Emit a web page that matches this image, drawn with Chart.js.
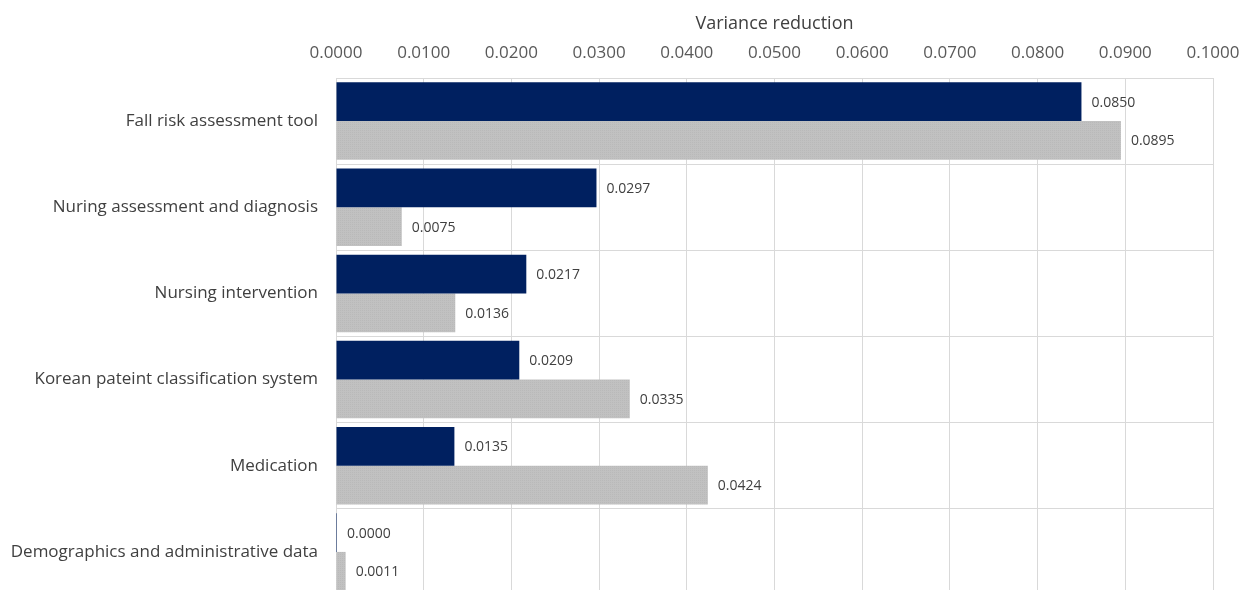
<!DOCTYPE html>
<html>
<head>
<meta charset="utf-8">
<script src="https://cdn.jsdelivr.net/npm/chart.js@4"></script>
<style>
  html, body { margin: 0; padding: 0; background: #fff; overflow: hidden; }
  canvas { display: block; }
</style>
</head>
<body>
<canvas id="chart" width="1239" height="598"></canvas>
<script>
// data
var categories = ["Fall risk assessment tool", "Nuring assessment and diagnosis", "Nursing intervention",
    "Korean pateint classification system", "Medication", "Demographics and administrative data"];
var series1 = [0.0850, 0.0297, 0.0217, 0.0209, 0.0135, 0.0000];
var series2 = [0.0895, 0.0075, 0.0136, 0.0335, 0.0424, 0.0011];
var xTicks = [0, 0.01, 0.02, 0.03, 0.04, 0.05, 0.06, 0.07, 0.08, 0.09, 0.1];

// fine dotted texture for the gray bars
function grayPattern() {
    var c = document.createElement('canvas');
    c.width = 2; c.height = 2;
    var g = c.getContext('2d');
    g.fillStyle = '#c1c1c1';
    g.fillRect(0, 0, 2, 2);
    g.fillStyle = '#b9b9b9';
    g.fillRect(0, 0, 1, 1);
    return g.createPattern(c, 'repeat');
}

// value labels at the end of each bar
var valueLabels = {
    id: 'valueLabels',
    afterDatasetsDraw: function(chart) {
        var ctx = chart.ctx;
        ctx.save();
        ctx.font = '14px "Open Sans"';
        ctx.fillStyle = '#404040';
        ctx.textAlign = 'left';
        ctx.textBaseline = 'middle';
        chart.data.datasets.forEach(function(ds, i) {
            chart.getDatasetMeta(i).data.forEach(function(bar, j) {
                ctx.fillText(ds.data[j].toFixed(4), bar.x + 10, bar.y + 1);
            });
        });
        ctx.restore();
    }
};

var ctx = document.getElementById('chart').getContext('2d');
var chart = new Chart(ctx, {
    type: 'bar',
    data: {
        labels: categories,
        datasets: [{
            label: 'Series1',
            data: series1,
            backgroundColor: '#002060',
            minBarLength: 1,
            categoryPercentage: 0.9,
            barPercentage: 1.0
        }, {
            label: 'Series2',
            data: series2,
            backgroundColor: grayPattern(),
            categoryPercentage: 0.9,
            barPercentage: 1.0
        }]
    },
    options: {
        indexAxis: 'y',
        responsive: false,
        animation: false,
        layout: { padding: { left: 0, right: 26, top: 0, bottom: 3 } },
        plugins: {
            legend: { display: false },
            tooltip: { enabled: false }
        },
        scales: {
            x: {
                position: 'top',
                min: 0,
                max: 0.1,
                afterBuildTicks: function(scale) {
                    scale.ticks = xTicks.map(function(v) { return { value: v }; });
                },
                afterFit: function(scale) {
                    scale.height = 78;
                    scale.paddingRight = 0;
                    scale.paddingLeft = 0;
                },
                grid: { color: '#d9d9d9', drawTicks: false },
                border: { display: false },
                ticks: {
                    color: '#595959',
                    font: { family: 'Open Sans', size: 17 },
                    padding: 15,
                    callback: function(v) { return Number(v).toFixed(4); }
                },
                title: {
                    display: true,
                    text: 'Variance reduction',
                    color: '#404040',
                    font: { family: 'Open Sans', size: 18 },
                    padding: { top: 13, bottom: 0 }
                }
            },
            y: {
                afterFit: function(scale) {
                    scale.width = 336;
                    scale.paddingTop = 0;
                    scale.paddingBottom = 0;
                },
                grid: { color: '#d9d9d9', drawTicks: false, offset: true },
                border: { display: false },
                ticks: {
                    color: '#404040',
                    font: { family: 'Open Sans', size: 17 },
                    padding: 18
                }
            }
        }
    },
    plugins: [valueLabels]
});
</script>
</body>
</html>
